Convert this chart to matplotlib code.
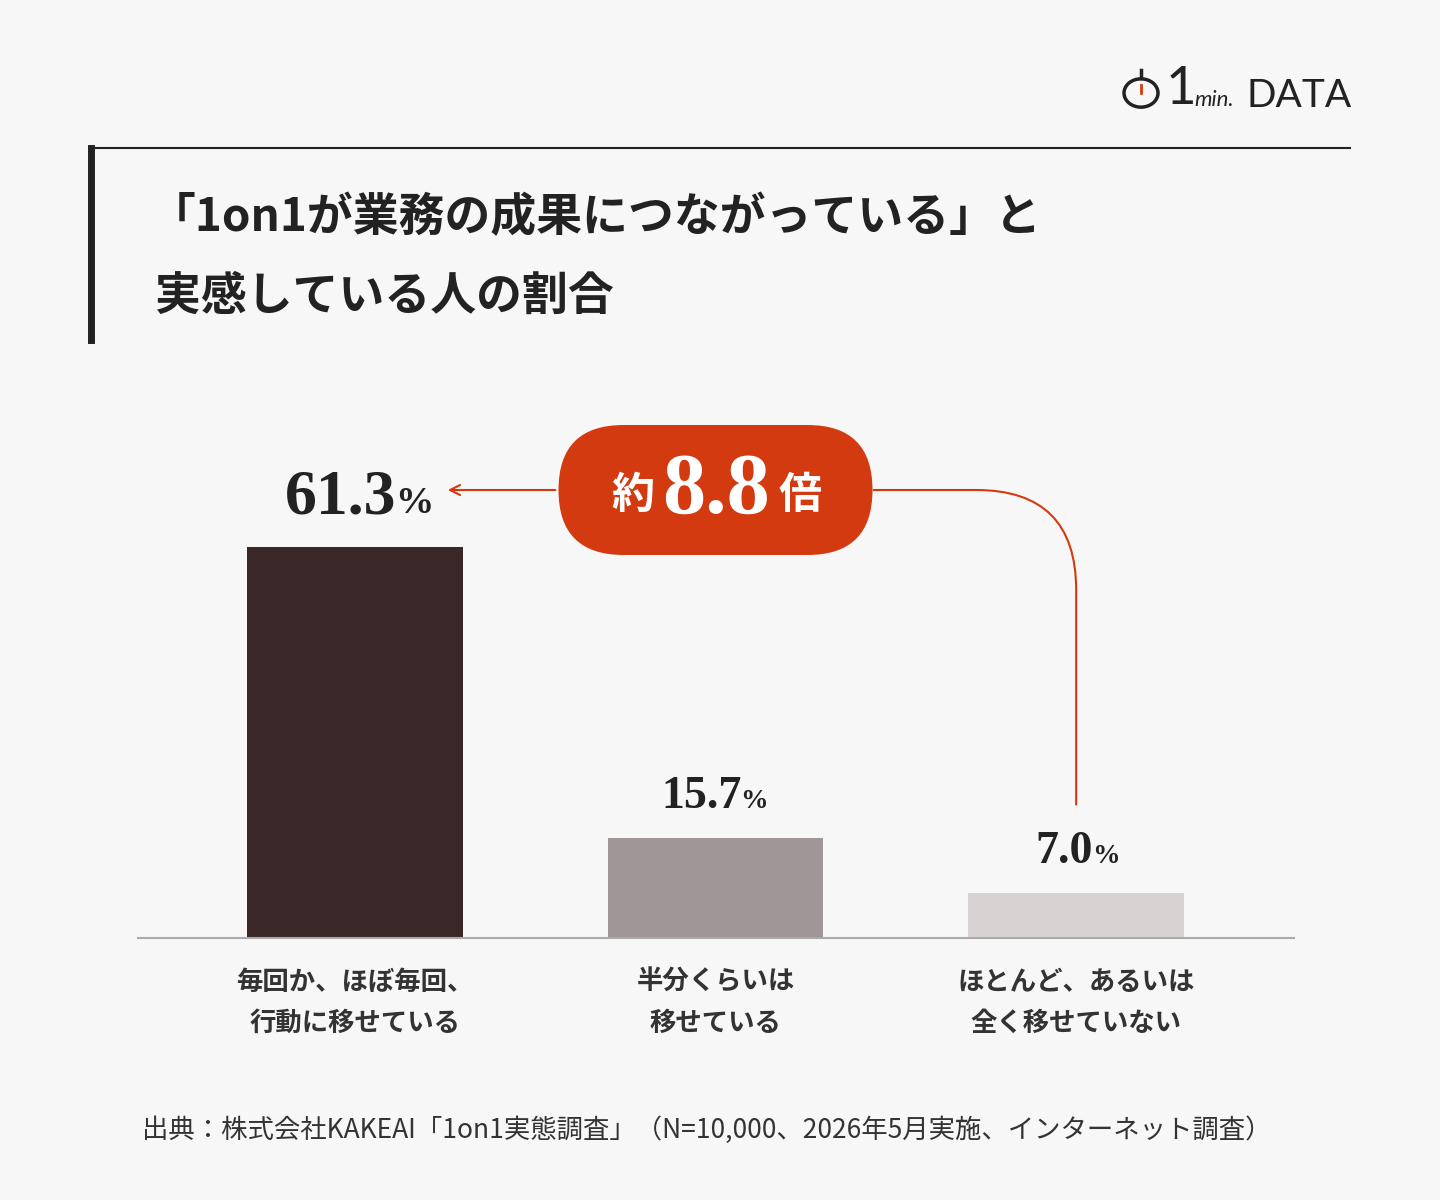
import matplotlib.pyplot as plt
from matplotlib.patches import FancyBboxPatch, Circle, PathPatch
from matplotlib.path import Path
from matplotlib.transforms import IdentityTransform

plt.rcParams['font.family'] = ['Noto Sans CJK JP', 'DejaVu Sans']

categories = ["毎回か、ほぼ毎回、\n行動に移せている", "半分くらいは\n移せている", "ほとんど、あるいは\n全く移せていない"]
values = [61.3, 15.7, 7.0]
colors = ["#3a2728", "#a09697", "#d6d3d2"]
ratio_label = "8.8"
source = "出典：株式会社KAKEAI「1on1実態調査」（N=10,000、2026年5月実施、インターネット調査）"

W, H = 1440, 1200
fig = plt.figure(figsize=(14.4, 12), dpi=100, facecolor="#f7f7f7")

# axes placed so the baseline sits at y=938px
ax = fig.add_axes([138 / W, (H - 938) / H, 1156 / W, 538 / H])
ax.set_facecolor("none")
ppu = 391 / 61.3
ax.set_ylim(0, 538 / ppu)
ax.set_xlim(-217 / 361, 2 + (1294 - 1076) / 361)
x = range(len(values))
ax.bar(x, values, width=216 / 361, color=colors)
for s in ["top", "right", "left"]:
    ax.spines[s].set_visible(False)
ax.spines["bottom"].set_color("#aaaaaa")
ax.spines["bottom"].set_linewidth(1.5)
ax.set_yticks([])
ax.set_xticks(list(x))
ax.set_xticklabels(categories, fontsize=19, color="#333333", linespacing=1.7, fontweight="bold")
ax.tick_params(axis="x", length=0, pad=22)

serif = "Liberation Serif"
sizes = [46, 33, 33]
shift = [0.116, 0.072, 0.047]
for i, v in enumerate(values):
    off = 34 / ppu if i == 0 else 30 / ppu
    ax.text(i + shift[i], v + off, f"{v:.1f}", ha="right", va="baseline", fontsize=sizes[i],
            family=serif, color="#222222", fontweight="bold")
    ax.text(i + shift[i] - 0.004, v + off, "%", ha="left", va="baseline",
            fontsize=sizes[i] * 0.6, family=serif, color="#222222", fontweight="bold")

red = "#d43a0f"
ybadge = (938 - 490) / ppu
bw = 315 / 361
# badge, drawn in pixel space so its ends are round
cx, cy = ax.transData.transform((1, ybadge))
badge = FancyBboxPatch((cx - 157, cy - 65), 314, 130, boxstyle="round,pad=0,rounding_size=65",
                       transform=IdentityTransform(), facecolor=red, edgecolor="none", zorder=3,
                       clip_on=False)
ax.add_artist(badge)
ax.text(0.77, ybadge - 0.8, "約", color="white", fontsize=31, fontweight="bold", ha="center", va="center", zorder=4)
ax.text(1.0, ybadge - 0.3, ratio_label, color="white", fontsize=62, fontweight="bold", ha="center", va="center",
        family=serif, zorder=4)
ax.text(1.235, ybadge - 0.8, "倍", color="white", fontsize=31, fontweight="bold", ha="center", va="center", zorder=4)

# arrow to first bar label
ax.annotate("", xy=(0.25, ybadge), xytext=(1 - bw / 2, ybadge),
            arrowprops=dict(arrowstyle="->", color=red, lw=1.5, mutation_scale=18), annotation_clip=False)
# connector from badge to third bar label
rr = 100 / ppu
yend = values[2] + 88 / ppu
verts = [(1 + bw / 2, ybadge), (2 - 100 / 361, ybadge), (2, ybadge), (2, ybadge - rr), (2, yend)]
codes = [Path.MOVETO, Path.LINETO, Path.CURVE3, Path.CURVE3, Path.LINETO]
ax.add_patch(PathPatch(Path(verts, codes), facecolor="none", edgecolor=red, lw=1.5, clip_on=False))

# title block
fig.add_artist(plt.Line2D([90 / W, 1350 / W], [1 - 148 / H, 1 - 148 / H], color="#222222", lw=1.5))
fig.add_artist(plt.Line2D([91 / W, 91 / W], [1 - 148 / H, 1 - 340 / H], color="#222222", lw=5))
fig.text(150 / W, 1 - 218 / H, "「1on1が業務の成果につながっている」と", fontsize=33, fontweight="bold",
         color="#222222", va="center")
fig.text(155 / W, 1 - 297 / H, "実感している人の割合", fontsize=33, fontweight="bold", color="#222222", va="center")

# logo
fig.add_artist(Circle((1141 / W, 1 - 93 / H), 0.0118, transform=fig.transFigure, facecolor="none",
                      edgecolor="#222222", lw=2.5))
fig.add_artist(plt.Line2D([1141 / W, 1141 / W], [1 - 70 / H, 1 - 78 / H], color="#222222", lw=2.5))
fig.add_artist(plt.Line2D([1141 / W, 1141 / W], [1 - 85 / H, 1 - 93 / H], color=red, lw=2))
fig.text(1166 / W, 1 - 90 / H, "1", fontsize=38, color="#222222", va="center", family="Lato")
fig.text(1194 / W, 1 - 100 / H, "min.", fontsize=16, color="#222222", va="center", style="italic", family="Lato")
fig.text(1246 / W, 1 - 96 / H, "DATA", fontsize=28, color="#222222", va="center", family="Lato")

fig.text(142 / W, 1 - 1130 / H, source, fontsize=19, color="#333333", va="center")

fig.savefig("out.png", dpi=100, facecolor=fig.get_facecolor())
